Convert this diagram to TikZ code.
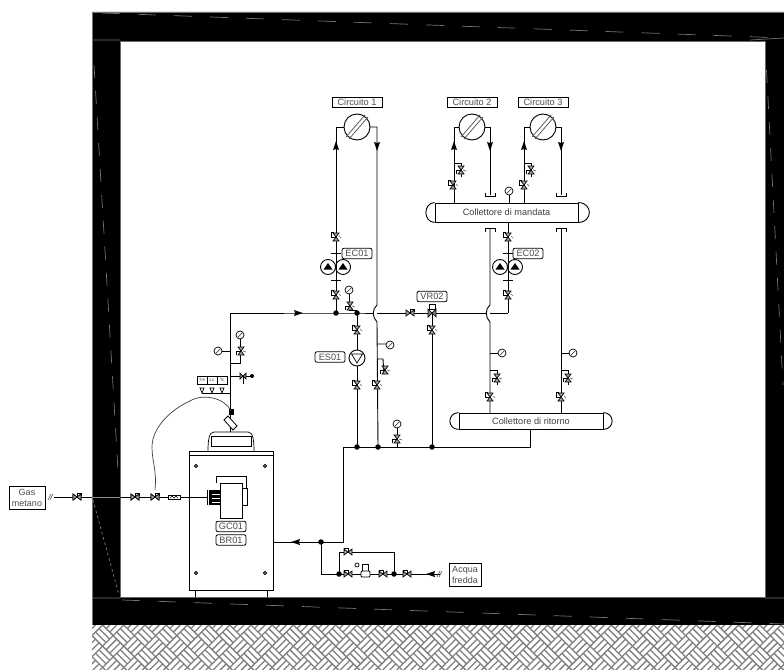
\documentclass[tikz,border=0pt]{standalone}
\usepackage{fontspec}
\setmainfont{Liberation Sans}
\tikzset{
  pipe/.style={line width=0.9pt,black},
  lbl/.style={draw,line width=0.8pt,inner sep=0pt,minimum height=10.5pt,font=\fontsize{9.2}{10}\selectfont,text=black!70},
  lblr/.style={lbl,rounded corners=2pt},
  coll/.style={draw,line width=0.9pt,inner sep=0pt,font=\fontsize{9.2}{10}\selectfont,text=black!75},
  wallmark/.style={line width=0.7pt,black!55},
  junc/.style={circle,fill=black,inner sep=0pt,minimum size=5.5pt},
  comp/.style={line width=0.7pt},
  vv/.pic={\draw[comp,fill=black!35] (-3,-4)--(3,-4)--(-3,4)--(3,4)--cycle;
           \draw[comp] (0,0)--(-5,0)--(-5,-5)--(-2,-5);\draw[comp,black!60] (3,-1)--(5,1);},
  vvr/.pic={\draw[comp,fill=black!35] (-3,-4)--(3,-4)--(-3,4)--(3,4)--cycle;
           \draw[comp] (0,0)--(-5,0)--(-5,4);\draw[comp,black!60] (2,0)--(5,1);},
  hv/.pic={\draw[comp,fill=black!35] (-4,-3)--(-4,3)--(4,-3)--(4,3)--cycle;
           \draw[comp] (0,0)--(0,-4)--(4,-4)--(4,-1);},
  gg/.pic={\draw[comp,fill=white] (0,0) circle (4);\draw[comp,black!70] (-2.5,2.5)--(2.5,-2.5);},
  ah/.pic={\fill (0,-6)--(3,3)--(0,2)--(-3,3)--cycle;},
  pump/.pic={\draw[line width=0.9pt,fill=white] (0,0) circle (7.5);\fill (0,-4)--(4.5,2.5)--(-4.5,2.5)--cycle;},
  pumpo/.pic={\draw[line width=0.9pt,fill=white] (0,0) circle (8);\draw[line width=0.7pt] (-5.5,-4)--(5.5,-4)--(0,5)--cycle;},
  rad/.pic={\draw[line width=0.9pt,fill=white] (0,0) circle (13);
     \draw[line width=0.7pt,black!70] (-11,10)--(8,-12) (-8,12)--(11,-10);},
  slash/.pic={\draw[line width=0.6pt,black!70] (-3,3)--(0,-3) (-1,3)--(2,-3);},
}
\begin{document}
\begin{tikzpicture}[x=1pt,y=-1pt]
\useasboundingbox (0,0) rectangle (784,669);
\fill[white] (0,0) rectangle (784,669);
% walls
\fill[black,even odd rule] (92,12) rectangle (784,625) (120,41) rectangle (765,597);
\draw[line width=0.6pt,black!55] (784,12)--(92,12)--(92,669);
\draw[line width=0.6pt,black!60] (120,41) rectangle (765,597);
\draw[wallmark] (93,40)--(120,40) (93,598)--(120,598) (765,598)--(784,598) (750,40)--(784,38);
\draw[wallmark,dash pattern=on 18pt off 18pt] (102,13)--(784,38);
\draw[wallmark,dash pattern=on 18pt off 18pt] (122,600)--(784,624);
\draw[wallmark,dash pattern=on 13pt off 13pt] (94,65)--(118,470);
\draw[wallmark,dash pattern=on 13pt off 13pt] (766.5,70)--(783,385);
\draw[line width=0.7pt,black!50,dash pattern=on 2.5pt off 3pt] (93,500)--(119,595);
% ground hatch
\begin{scope}
\clip (92,625) rectangle (784,669);
\fill[white] (92,625) rectangle (784,669);
\foreach \p in {-1,...,67}{\foreach \q in {-2,...,6}{
  \pgfmathparse{int(mod(\p+\q+20,2))}
  \ifnum\pgfmathresult=0
    \pgfmathsetmacro{\cx}{92+\p*10.6}
    \pgfmathsetmacro{\cy}{625+\q*10.6}
    \pgfmathsetmacro{\ang}{ifthenelse(mod(\p+20,2)==0,45,-45)}
    \begin{scope}[shift={(\cx,\cy)},rotate=\ang]
      \draw[line width=1.3pt,black!50] (-7.5,-7.5)--(7.5,-7.5) (-7.5,-2.5)--(7.5,-2.5) (-7.5,2.5)--(7.5,2.5) (-7.5,7.5)--(7.5,7.5);
    \end{scope}
  \fi}}
\end{scope}
% labels
\node[lbl,minimum width=50pt] (c1) at (357,102.5) {Circuito 1};
\node[lbl,minimum width=50pt] (c2) at (472,102.5) {Circuito 2};
\node[lbl,minimum width=50pt] (c3) at (543,102.5) {Circuito 3};
\node[coll,minimum width=143pt,minimum height=19pt] (cm) at (506.5,212.5) {Collettore di mandata};
\node[coll,minimum width=144pt,minimum height=16pt] (cr) at (531,421) {Collettore di ritorno};
\draw[line width=0.9pt] (cm.north west) .. controls (423,203) and (423,222) .. (cm.south west)
      (cm.north east) .. controls (593,203) and (593,222) .. (cm.south east);
\draw[line width=0.9pt] (cr.north west) .. controls (447,413) and (447,429) .. (cr.south west)
      (cr.north east) .. controls (615,413) and (615,429) .. (cr.south east);
% coordinates
\coordinate (r1) at (357,127); \coordinate (r2) at (472,127); \coordinate (r3) at (543,127);
\coordinate (j1) at (336,313); \coordinate (j2) at (357,313); \coordinate (tee) at (230,313);
\coordinate (jb) at (343,447); \coordinate (j3) at (357,447); \coordinate (j4) at (378,447); \coordinate (j5) at (432,447);
\coordinate (boil) at (273,542); \coordinate (jw) at (321,542); \coordinate (jw1) at (339,574); \coordinate (jw2) at (394,574);
% pipes: circuit 1
\draw[pipe] (r1) -- (336,127) -- (j1);
\draw[pipe] (r1) -- (377,127) -- (377,305) .. controls (372,309) and (372,317) .. (377,322) -- (j4);
% circuits 2 3
\draw[pipe] (r2) -- (454,127) -- (454,203);
\draw[pipe] (r2) -- (490,127) -- (490,195);
\draw[pipe] (r3) -- (524,127) -- (524,203);
\draw[pipe] (r3) -- (561,127) -- (561,195);
\draw[pipe] (485,193)--(485,196.5)--(495,196.5)--(495,193) (556,193)--(556,196.5)--(566,196.5)--(566,193);
\draw[pipe] (485,232)--(485,228.5)--(495,228.5)--(495,232) (556,232)--(556,228.5)--(566,228.5)--(566,232);
\draw[pipe] (454,163)--(461,163)--(461,177) (524,163)--(531,163)--(531,177);
% lower rise
\draw[pipe] (508,222)--(508,313);
\draw[pipe] (490,229)--(490,305) .. controls (485,309) and (485,317) .. (490,322) -- (490,413);
\draw[pipe] (561,229)--(561,413);
% main header
\draw[pipe] (230,432)--(tee)--(j1)--(j2)--(373.5,313);
\draw[pipe] (377,313)--(486.5,313) (490,313)--(508,313);
\draw[pipe] (j2)--(j3);
\draw[pipe] (432,313)--(j5);
\draw[pipe] (jb)--(343,542)--(boil) (jb)--(530,447)--(530,429);
\draw[pipe] (jw)--(321,574)--(440,574);
\draw[pipe] (jw1)--(339,552)--(394,552)--(jw2);
\draw[pipe] (397,424)--(397,447);
% small branches
\draw[pipe] (377,344)--(386,344) (377,359)--(383,359)--(384,374);
\draw[pipe] (490,353)--(498,353) (490,370)--(497,370)--(497,385);
\draw[pipe] (561,353)--(569,353) (561,370)--(568,370)--(568,385);
\draw[pipe] (230,351)--(222,351) (230,363)--(240,363)--(240,337);
\draw[pipe] (230,376)--(252,376) (230,393)--(202,393);
\draw[pipe] (349,294)--(349,310)--(357,310);
% symbols
\pic at (r1) {rad}; \pic at (r2) {rad}; \pic at (r3) {rad};
\pic at (336,147) {ah}; \pic at (454,147) {ah}; \pic at (524,147) {ah};
\pic[rotate=180] at (377,145) {ah}; \pic[rotate=180] at (490,145) {ah}; \pic[rotate=180] at (561,145) {ah};
\pic[rotate=-90] at (297,313) {ah}; \pic[rotate=90] at (297,542) {ah};
\foreach \x/\y in {336/237,336/295,453/185,524/185,508/237,508/295}{\pic at (\x,\y) {vv};}
\foreach \x/\y in {461/170,531/170,385/370,497/378,568/378,350/306,397/439,241/351}{\pic at (\x,\y) {vvr};}
\foreach \x/\y in {357/330,432/330,357/385,377/385,490/397,561/397}{\pic at (\x,\y) {vv};}
\foreach \x/\y in {410/313,77/497,135/497,155/497}{\pic at (\x,\y) {hv};}
\foreach \x/\y in {348/552,348/574,383/574,407/574}{\pic[xscale=-1] at (\x,\y) {hv};}
\foreach \x/\y in {509/191,349/290,390/345,502/353,573/353,397/424,240/335,218/351}{\pic at (\x,\y) {gg};}
\draw[pipe] (509,195)--(509,203);
\draw[comp,fill=white] (429,304) rectangle (435,309);
\draw[comp,fill=black!50] (428,309)--(436,317)--(436,309)--(428,317)--cycle;
% circulators
\foreach \x in {328,343}{\pic at (\x,267) {pump};}
\foreach \x in {500,515}{\pic at (\x,267) {pump};}
\draw[pipe] (331,253)--(341,253) (331,280)--(341,280) (503,253)--(513,253) (503,280)--(513,280);
\draw[pipe] (336,259)--(336,275) (508,259)--(508,275);
\pic at (357,358) {pumpo};
\node[lblr,minimum width=30pt] (ec1) at (357,253.5) {EC01};
\node[lblr,minimum width=30pt] (ec2) at (528,253.5) {EC02};
\node[lblr,minimum width=30pt] (vr) at (432,296.5) {VR02};
\node[lblr,minimum width=30pt] (es) at (330,357) {ES01};
% junctions
\foreach \c in {j1,j2,j3,j4,j5,jw,jw1,jw2}{\node[junc] at (\c) {};}
% boiler
\draw[line width=0.9pt,fill=white] (189,451) rectangle (273,590);
\draw[line width=0.9pt] (189,455)--(273,455) (195,590)--(195,597) (267,590)--(267,597);
\foreach \x/\y in {196/466,265/466,196/573,265/573}{\draw[line width=0.6pt,fill=black!60] (\x,\y) circle (1.8);}
\draw[line width=0.9pt] (211,436) rectangle (251,446);
\draw[line width=0.7pt] (208,451) .. controls (208,440) and (209,432) .. (214,432) -- (248,432) .. controls (253,432) and (254,440) .. (254,451);
\draw[line width=0.8pt,fill=white] (228,416)--(237,426)--(233,430)--(224,420)--cycle;
\fill (228.5,409) rectangle (233.5,414.5);
\draw[line width=0.7pt,black!75] (231,411) .. controls (225,398) and (203,393) .. (190,401) .. controls (170,410) and (152,428) .. (152,447) .. controls (152,462) and (157,470) .. (155,490);
% burner
\draw[line width=0.9pt] (216,483)--(216,476)--(246,476)--(246,488);
\draw[line width=0.9pt,fill=white] (220,483) rectangle (242,518);
\draw[line width=0.9pt,fill=white] (242,488) rectangle (247,505);
\fill (209,490) rectangle (220,505);
\draw[line width=0.7pt,white] (212,494)--(220,494) (212,498)--(220,498) (212,502)--(220,502);
\draw[line width=0.7pt] (207,490)--(207,505);
\node[lblr,minimum width=30pt] (gc) at (231,526.5) {GC01};
\node[lblr,minimum width=30pt] (br) at (231,540) {BR01};
% gas
\node[lbl,minimum width=36pt,minimum height=23pt,align=center,font=\fontsize{9}{11}\selectfont] (gas) at (27,497.5) {Gas\\metano};
\coordinate (gasend) at (54,497);
\draw[line width=0.9pt] (gasend)--(207,497);
\draw[line width=0.9pt,black!45] (92,497)--(120,497);
\pic at (77,497) {hv}; \pic at (135,497) {hv}; \pic at (155,497) {hv};
\pic at (51,497) {slash};
\draw[line width=0.8pt,fill=white] (168,495) rectangle (180,499.5);
\draw[line width=0.6pt] (170,498)--(172,496)--(174,498)--(176,496)--(178,498);
% water
\node[lbl,minimum width=32pt,minimum height=23pt,align=center,font=\fontsize{9}{11}\selectfont] (acq) at (465,574.5) {Acqua\\fredda};
\pic[rotate=90] at (432,574) {ah};
\pic at (440,574) {slash};
\draw[line width=0.9pt,fill=white,rounded corners=1pt] (361,571) rectangle (370,577);
\draw[comp] (362,571)--(362,564)--(368,564)--(368,571);
\draw[comp] (357,565) circle (2);
% controls
\foreach \x/\t in {197/Tm,207/Lc,217/Tc}{
  \draw[line width=0.8pt] (\x,376) rectangle ++(10,8);
  \node[font=\fontsize{4.5}{4.5}\selectfont,inner sep=0pt,text=black!70] at (\x+5,380) {\t};
  \draw[comp] (\x+5,393)--(\x+3,388)--(\x+7,388)--cycle;}
\draw[pipe] (230,376)--(236,376);
\draw[comp,fill=black!50] (240,373)--(246,379)--(246,373)--(240,379)--cycle;
\draw[comp] (243,376)--(243,384);
\fill (252,376) circle (2);
\end{tikzpicture}
\end{document}
